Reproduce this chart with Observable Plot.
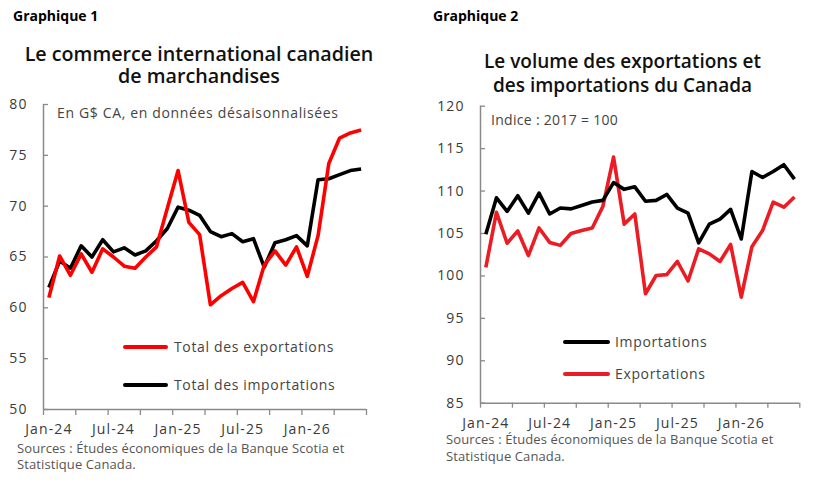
<!DOCTYPE html>
<html lang="fr">
<head>
<meta charset="utf-8">
<script src="https://cdn.jsdelivr.net/npm/d3@7"></script>
<script src="https://cdn.jsdelivr.net/npm/@observablehq/plot@0.6"></script>
<style>
  html, body { margin: 0; padding: 0; background: #fff; }
  #page { position: relative; width: 828px; height: 483px; overflow: hidden; font-family: "Open Sans", sans-serif; }
  .t { position: absolute; white-space: pre; }
  .sw { position: absolute; height: 3.5px; border-radius: 2px; }
  svg.plot-svg { position: absolute; top: 0; }
</style>
</head>
<body>
<div id="page"></div>
<script>
// ---------- data ----------
const months = ["Jan-24","Feb-24","Mar-24","Apr-24","May-24","Jun-24","Jul-24","Aug-24","Sep-24","Oct-24","Nov-24","Dec-24",
                "Jan-25","Feb-25","Mar-25","Apr-25","May-25","Jun-25","Jul-25","Aug-25","Sep-25","Oct-25","Nov-25","Dec-25",
                "Jan-26","Feb-26","Mar-26","Apr-26","May-26","Jun-26"];
const tickLabels = ["Jan-24","Jul-24","Jan-25","Jul-25","Jan-26"];

// Graphique 1 : G$ CA
const exports1 = [61.0, 65.1, 63.2, 65.3, 63.5, 65.8, 65.0, 64.1, 63.9, 65.0, 66.0, 69.8,
                  73.5, 68.4, 67.2, 60.3, 61.2, 61.9, 62.5, 60.6, 64.2, 65.6, 64.2, 66.0,
                  63.1, 67.1, 74.2, 76.7, 77.2, 77.5];
const imports1 = [62.0, 64.6, 63.9, 66.1, 65.0, 66.7, 65.5, 65.9, 65.2, 65.6, 66.6, 67.8,
                  69.9, 69.6, 69.1, 67.5, 67.0, 67.3, 66.5, 66.8, 64.0, 66.4, 66.7, 67.1,
                  66.1, 72.6, 72.7, 73.1, 73.5, 73.65];
const yTicks1 = [50, 55, 60, 65, 70, 75, 80];

// Graphique 2 : indice 2017 = 100
const imports2 = [104.9, 109.2, 107.6, 109.45, 107.4, 109.75, 107.3, 108.0, 107.9, 108.3, 108.7, 108.9,
                  111.0, 110.2, 110.5, 108.8, 108.9, 109.6, 108.0, 107.4, 103.9, 106.1, 106.7, 107.85,
                  104.35, 112.3, 111.6, 112.3, 113.1, 111.4];
const exports2 = [101.0, 107.5, 103.85, 105.3, 102.4, 105.65, 103.95, 103.6, 105.0, 105.35, 105.65, 108.2,
                  114.0, 106.1, 107.3, 97.9, 100.05, 100.15, 101.7, 99.4, 103.2, 102.6, 101.7, 103.7,
                  97.5, 103.45, 105.35, 108.7, 108.1, 109.3];
const yTicks2 = [85, 90, 95, 100, 105, 110, 115, 120];

// ---------- helpers ----------
const page = document.getElementById("page");
const AXIS = "#8a8a8a";
const TXT = "#3a3a3a";
// baseline = baseline of the first line; lh = line height in px
function text(str, x, baseline, {size = 14, weight = 400, color = TXT, anchor = "start", ls = 0, lh = null} = {}) {
  lh = lh ?? Math.round(size * 1.25);
  const top = baseline - ((lh - 1.362 * size) / 2 + 1.069 * size);
  const d = document.createElement("div");
  d.className = "t";
  d.textContent = str;
  Object.assign(d.style, {fontSize: size + "px", fontWeight: weight, color, lineHeight: lh + "px",
    top: top + "px", letterSpacing: ls + "px"});
  if (anchor === "middle") { d.style.left = (x - 300) + "px"; d.style.width = "600px"; d.style.textAlign = "center"; }
  else d.style.left = x + "px";
  page.appendChild(d);
}
function swatch(x1, x2, y, color) {
  const d = document.createElement("div");
  d.className = "sw";
  Object.assign(d.style, {left: x1 + "px", width: (x2 - x1) + "px", top: (y - 1.75) + "px", background: color});
  page.appendChild(d);
}
const tickPos = tickLabels.map(l => months.indexOf(l));
const bounds = d3.range(-0.5, months.length + 0.5, 3);

function chart({left, width, mL, mR, mT, mB, yDomain, yTicks, xTickSize, series}) {
  const height = 483;
  const xmin = -0.5, xmax = months.length - 0.5;
  const pxX = (width - mL - mR) / (xmax - xmin);       // px per month
  const pxY = (height - mT - mB) / (yDomain[1] - yDomain[0]); // px per unit
  const svg = Plot.plot({
    width, height, marginLeft: mL, marginRight: mR, marginTop: mT, marginBottom: mB,
    x: {domain: [xmin, xmax], axis: null},
    y: {domain: yDomain, axis: null},
    style: {background: "transparent", fontFamily: "'Open Sans', sans-serif", fontSize: "14px",
            color: TXT, overflow: "visible", maxWidth: "none", letterSpacing: "1.1px"},
    marks: [
      // axis lines
      Plot.ruleX([xmin], {y1: yDomain[0], y2: yDomain[1], stroke: AXIS, strokeWidth: 1.5}),
      Plot.ruleY([yDomain[0]], {x1: xmin, x2: xmax, stroke: AXIS, strokeWidth: 1.5}),
      // y ticks (inward) and labels
      Plot.ruleY(yTicks, {y: d => d, x1: xmin, x2: xmin + 5 / pxX, stroke: AXIS, strokeWidth: 1.3}),
      Plot.text(yTicks, {x: xmin, y: d => d, dx: -16, textAnchor: "end", fill: TXT, text: d => String(d)}),
      // x ticks (outward) and labels
      Plot.ruleX(bounds, {x: d => d, y1: yDomain[0], y2: yDomain[0] - xTickSize / pxY, stroke: AXIS, strokeWidth: 1.3}),
      Plot.text(tickPos, {x: d => d, y: yDomain[0], dy: 20, fill: TXT, text: i => months[i]}),
      // series
      ...series.map(s => Plot.line(s.values, {x: (d, i) => i, y: d => d, stroke: s.color, strokeWidth: 3.6,
                                               strokeLinejoin: "round", strokeLinecap: "butt"}))
    ]
  });
  svg.classList.add("plot-svg");
  svg.style.left = left + "px";
  page.appendChild(svg);
}

// ---------- Graphique 1 ----------
chart({left: 0, width: 414, mL: 43, mR: 48, mT: 104, mB: 74, yDomain: [50, 80], yTicks: yTicks1, xTickSize: 6,
       series: [{values: imports1, color: "#000000"}, {values: exports1, color: "#ff0000"}]});
// ---------- Graphique 2 ----------
chart({left: 414, width: 414, mL: 66, mR: 28.7, mT: 105.7, mB: 80.3, yDomain: [85, 120], yTicks: yTicks2, xTickSize: 5,
       series: [{values: exports2, color: "#ec1c24"}, {values: imports2, color: "#000000"}]});

// ---------- textes ----------
text("Graphique 1", 13, 21, {size: 14, weight: 700, color: "#000"});
text("Graphique 2", 433, 21, {size: 14, weight: 700, color: "#000"});
text("Le commerce international canadien\nde marchandises", 199, 61.7,
     {size: 19.7, weight: 600, color: "#111", anchor: "middle", lh: 21.8});
text("Le volume des exportations et\ndes importations du Canada", 622.5, 69.3,
     {size: 19, weight: 600, color: "#111", anchor: "middle", lh: 23.4});
text("En G$ CA, en données désaisonnalisées", 57, 118, {size: 14, color: "#444", ls: 0.65});
text("Indice : 2017 = 100", 491, 125, {size: 14, color: "#444", ls: 0.3});

// légendes
swatch(123, 168, 347, "#ff0000");
text("Total des exportations", 174, 352, {size: 14, color: "#444", ls: 0.65});
swatch(123, 168, 385, "#000000");
text("Total des importations", 174, 390, {size: 14, color: "#444", ls: 0.65});
swatch(563, 610, 342, "#000000");
text("Importations", 615, 347, {size: 14, color: "#444", ls: 0.65});
swatch(563, 610, 374, "#ec1c24");
text("Exportations", 615, 379, {size: 14, color: "#444", ls: 0.65});

// sources
text("Sources : Études économiques de la Banque Scotia et\nStatistique Canada.", 17, 453,
     {size: 13, color: "#555", ls: 0.1, lh: 16.5});
text("Sources : Études économiques de la Banque Scotia et\nStatistique Canada.", 446, 444.5,
     {size: 13, color: "#555", ls: 0.1, lh: 16.5});
</script>
</body>
</html>
